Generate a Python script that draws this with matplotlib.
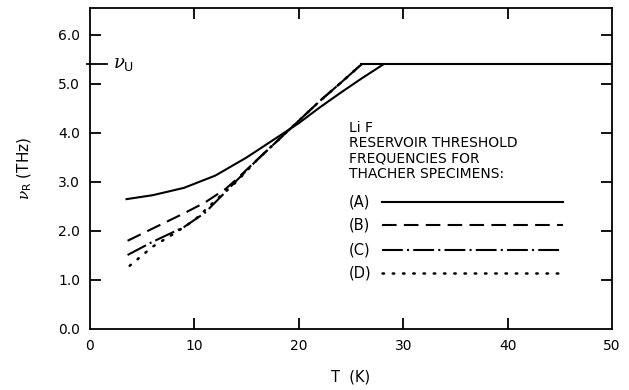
import matplotlib
matplotlib.use("Agg")
import matplotlib.pyplot as plt

plt.rcParams['font.family'] = ['DejaVu Sans']
plt.rcParams['mathtext.fontset'] = 'dejavuserif'

# Data (T in K, nu_R in THz)
T_A = [3.5, 6, 9, 12, 15, 18, 20, 22, 24, 26, 28.1]
nu_A = [2.65, 2.73, 2.88, 3.13, 3.50, 3.92, 4.20, 4.52, 4.82, 5.11, 5.40]
T_B = [3.6, 6, 9, 11, 13, 14, 16, 18, 20, 22, 24, 26]
nu_B = [1.80, 2.05, 2.36, 2.58, 2.86, 3.05, 3.45, 3.85, 4.25, 4.65, 5.02, 5.40]
T_C = [3.6, 6, 9, 11, 13, 14, 16, 18, 20, 22, 24, 26]
nu_C = [1.51, 1.78, 2.08, 2.37, 2.80, 3.02, 3.45, 3.85, 4.25, 4.65, 5.02, 5.40]
T_D = [3.8, 6, 8, 10, 12, 14, 16, 18, 20, 22, 24, 26]
nu_D = [1.29, 1.68, 1.94, 2.22, 2.62, 3.00, 3.45, 3.85, 4.25, 4.65, 5.02, 5.40]
nu_U = 5.4
T_plateau = [26, 50]

x_ticks = [0, 10, 20, 30, 40, 50]
y_ticks = [0.0, 1.0, 2.0, 3.0, 4.0, 5.0, 6.0]
legend_labels = ['(A)', '(B)', '(C)', '(D)']
title_lines = "Li F\nRESERVOIR THRESHOLD\nFREQUENCIES FOR\nTHACHER SPECIMENS:"

fig = plt.figure(figsize=(6.29, 3.9), dpi=100)
ax = fig.add_axes([90/629, 61/390, 522/629, 321/390])

lw = 1.5
sA = dict(color='black', lw=lw, linestyle='-')
sB = dict(color='black', lw=lw, linestyle=(0, (7, 3.5)))
sC = dict(color='black', lw=lw, linestyle=(0, (10, 2, 1, 2)))
sD = dict(color='black', lw=1.8, linestyle=(0, (0.6, 3.5)), dash_capstyle='round')

ax.plot(T_A, nu_A, **sA)
ax.plot(T_B, nu_B, **sB)
ax.plot(T_C, nu_C, **sC)
ax.plot(T_D, nu_D, **sD)
ax.plot(T_plateau, [nu_U, nu_U], color='black', lw=lw)

ax.set_xlim(0, 50)
ax.set_ylim(0, 6.55)
ax.set_xticks(x_ticks)
ax.set_xticklabels([str(v) for v in x_ticks])
ax.set_yticks(y_ticks)
ax.set_yticklabels([f"{v:.1f}" for v in y_ticks])

ax.tick_params(axis='both', direction='in', length=8, width=1.3, labelsize=10,
               top=True, right=True)
ax.tick_params(axis='x', pad=7)
ax.tick_params(axis='y', pad=7)
for t in ax.xaxis.get_major_ticks():
    if t.get_loc() in (0, 50):
        t.tick1line.set_visible(False)
        t.tick2line.set_visible(False)
for t in ax.yaxis.get_major_ticks():
    if t.get_loc() == 0:
        t.tick1line.set_visible(False)
        t.tick2line.set_visible(False)

for s in ax.spines.values():
    s.set_linewidth(1.3)

# nu_U marker
ax.plot([-0.3, 1.6], [nu_U, nu_U], color='black', lw=1.3, clip_on=False)
ax.text(2.2, nu_U, r'$\nu_{\mathsf{U}}$', fontsize=13, va='center', ha='left')

ax.set_xlabel('T  (K)', fontsize=10.5, labelpad=12)
ax.set_ylabel(r'$\nu_{\mathsf{R}}$ (THz)', fontsize=11, labelpad=18)

# legend block
ax.text(24.8, 4.24, title_lines, fontsize=10, va='top', ha='left', linespacing=1.1)
leg_y = [2.59, 2.12, 1.61, 1.14]
styles = [sA, sB, sC, sD]
for lab, y, st in zip(legend_labels, leg_y, styles):
    ax.text(24.8, y, lab, fontsize=10.5, va='center', ha='left')
    ax.plot([28.0, 45.3], [y, y], **st)

fig.savefig('out.png', dpi=100)
